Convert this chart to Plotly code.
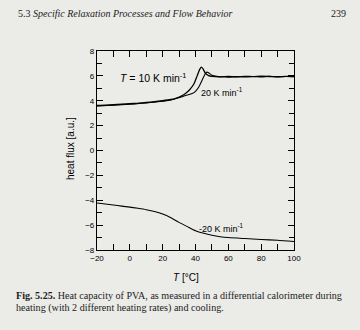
import plotly.graph_objects as go

# Heating run at 10 K/min: temperature [°C] and heat flux [a.u.]
t_heat10 = [-20, -15, -10, -5, 0, 5, 10, 15, 20, 25, 28, 31, 33, 35, 37, 39, 41,
            42.5, 43.5, 44.5, 46, 48, 50, 55, 60, 65, 70, 75, 80, 85, 90, 95, 100]
q_heat10 = [3.62, 3.64, 3.68, 3.72, 3.76, 3.80, 3.86, 3.92, 4.00, 4.10, 4.20, 4.35,
            4.50, 4.70, 4.98, 5.35, 6.00, 6.50, 6.70, 6.58, 6.22, 6.02, 5.96, 5.92,
            5.95, 5.92, 5.96, 5.94, 5.97, 5.95, 5.93, 5.96, 5.95]

# Heating run at 20 K/min
t_heat20 = [-20, -10, 0, 10, 20, 25, 30, 34, 38, 40, 42, 44, 46, 47, 48.5, 50,
            53, 56, 60, 65, 70, 75, 80, 85, 90, 95, 100]
q_heat20 = [3.58, 3.64, 3.72, 3.82, 3.96, 4.06, 4.25, 4.42, 4.58, 4.76, 5.10,
            5.65, 6.18, 6.30, 6.20, 6.05, 5.96, 5.93, 5.90, 5.94, 5.91, 5.95,
            5.92, 5.96, 5.93, 5.95, 5.94]

# Cooling run at -20 K/min
t_cool = [-20, -15, -10, -5, 0, 5, 10, 15, 20, 25, 30, 35, 40, 45, 50, 55, 60,
          70, 80, 90, 100]
q_cool = [-4.22, -4.30, -4.38, -4.47, -4.55, -4.65, -4.76, -4.90, -5.10, -5.40,
          -5.78, -6.12, -6.45, -6.66, -6.82, -6.93, -7.00, -7.08, -7.15, -7.22,
          -7.32]

x_ticks = [-20, 0, 20, 40, 60, 80, 100]
y_ticks = [-8, -6, -4, -2, 0, 2, 4, 6, 8]

PAGE = "#ebebe8"
L, R, T, B = 97, 294, 51, 250  # plot box in pixels


def px(x):
    return (x - L) / (R - L)


def py(y):
    return (B - y) / (B - T)


fig = go.Figure()
for tx, qy, w in [(t_heat10, q_heat10, 1.3), (t_heat20, q_heat20, 1.1),
                  (t_cool, q_cool, 1.1)]:
    fig.add_trace(go.Scatter(x=tx, y=qy, mode="lines",
                             line=dict(color="black", width=w, shape="spline",
                                       smoothing=0.6),
                             showlegend=False, hoverinfo="skip"))

sans = "Liberation Sans"
serif = "Liberation Serif"

axis_common = dict(showline=True, linecolor="black", linewidth=1.2, mirror="ticks",
                   ticks="inside", ticklen=6, tickwidth=1.2, tickcolor="black",
                   showgrid=False, zeroline=False,
                   tickfont=dict(family=sans, size=8, color="black"))

fig.update_xaxes(range=[-20, 100], tickvals=x_ticks,
                 minor=dict(dtick=10, ticks="inside", ticklen=6,
                            tickcolor="black", tickwidth=1.2),
                 **axis_common)
fig.update_yaxes(range=[-8, 8], tickvals=y_ticks,
                 minor=dict(dtick=1, ticks="inside", ticklen=5,
                            tickcolor="black", tickwidth=1.2),
                 **axis_common)

ann = []
# curve labels
ann.append(dict(x=px(118), y=py(77), xref="paper", yref="paper",
                text="<i>T</i> = 10 K min<sup>-1</sup>", xanchor="left",
                yanchor="middle", showarrow=False,
                font=dict(family=sans, size=10.5, color="black")))
ann.append(dict(x=px(199), y=py(92), xref="paper", yref="paper",
                text="20 K min<sup>-1</sup>", xanchor="left", yanchor="middle",
                showarrow=False, font=dict(family=sans, size=9, color="black")))
ann.append(dict(x=px(197), y=py(228), xref="paper", yref="paper",
                text="-20 K min<sup>-1</sup>", xanchor="left", yanchor="middle",
                showarrow=False, font=dict(family=sans, size=9, color="black")))
# axis titles
ann.append(dict(x=px(70), y=py(149), xref="paper", yref="paper",
                text="heat flux [a.u.]", textangle=-90, showarrow=False,
                xanchor="center", yanchor="middle",
                font=dict(family=sans, size=10, color="black")))
ann.append(dict(x=px(186), y=py(277), xref="paper", yref="paper",
                text="<i>T</i> [°C]", showarrow=False,
                xanchor="center", yanchor="middle",
                font=dict(family=sans, size=10, color="black")))
# running head
ann.append(dict(x=px(16), y=py(14), xref="paper", yref="paper",
                text="5.3 <i>Specific Relaxation Processes and Flow Behavior</i>",
                showarrow=False, xanchor="left", yanchor="middle",
                font=dict(family=serif, size=10, color="#222")))
ann.append(dict(x=px(348), y=py(14), xref="paper", yref="paper",
                text="239", showarrow=False, xanchor="right", yanchor="middle",
                font=dict(family=serif, size=10, color="#222")))
# caption
ann.append(dict(x=px(14), y=py(295), xref="paper", yref="paper",
                text="<b>Fig. 5.25.</b> Heat capacity of PVA, as measured in a "
                     "differential calorimeter during",
                showarrow=False, xanchor="left", yanchor="middle",
                font=dict(family=serif, size=10.1, color="#222")))
ann.append(dict(x=px(14), y=py(308), xref="paper", yref="paper",
                text="heating (with 2 different heating rates) and cooling.",
                showarrow=False, xanchor="left", yanchor="middle",
                font=dict(family=serif, size=10.1, color="#222")))

fig.update_layout(width=360, height=330,
                  margin=dict(l=L, r=360 - R, t=T, b=330 - B),
                  paper_bgcolor=PAGE, plot_bgcolor=PAGE,
                  annotations=ann)

fig.write_html("out.html")
